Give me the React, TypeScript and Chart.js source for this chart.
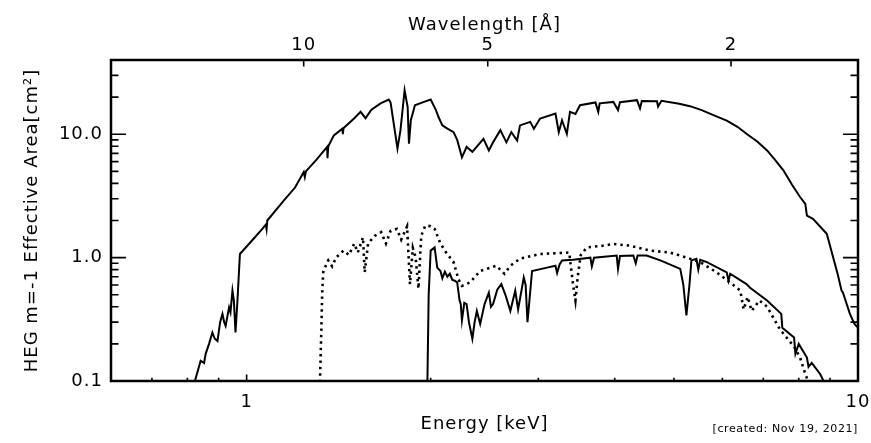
import React, { useEffect, useRef } from 'react';
import { Chart, registerables } from 'chart.js';

Chart.register(...registerables);

const HC = 12.398; // keV * Angstrom

// Upper solid curve (first order)
const upperEnergy = [
  0.822, 0.841, 0.852, 0.857, 0.868, 0.879, 0.887, 0.896, 0.905, 0.913, 0.919, 0.924, 0.936, 0.941, 0.948,
  0.953, 0.959, 0.966, 0.975, 1.03, 1.06, 1.075, 1.078, 1.081, 1.15, 1.2, 1.24, 1.245, 1.25, 1.3, 1.354,
  1.356, 1.36, 1.389, 1.434, 1.437, 1.44, 1.5, 1.536, 1.565, 1.6, 1.656, 1.708, 1.72, 1.765, 1.785, 1.813,
  1.834, 1.838, 1.843, 1.856, 1.885, 1.95, 2.0, 2.04, 2.06, 2.09, 2.13, 2.18, 2.21, 2.25, 2.29, 2.34, 2.44,
  2.49, 2.53, 2.6, 2.66, 2.71, 2.77, 2.8, 2.91, 2.95, 3.02, 3.2, 3.24, 3.28, 3.34, 3.38, 3.45, 3.51, 3.72,
  3.76, 3.78, 3.98, 4.05, 4.08, 4.35, 4.4, 4.43, 4.69, 4.71, 4.77, 5.1, 5.31, 5.55, 5.8, 6.1, 6.35, 6.57,
  6.85, 7.1, 7.3, 7.55, 7.8, 8.04, 8.2, 8.25, 8.44, 8.89, 9.26, 9.4, 9.45, 9.7, 9.87, 10.0,
];
const upperArea = [
  0.098, 0.146, 0.14, 0.166, 0.2, 0.247, 0.22, 0.211, 0.3, 0.35, 0.3, 0.28, 0.395, 0.36, 0.54,
  0.45, 0.247, 0.447, 1.07, 1.45, 1.7, 1.85, 1.7, 2.0, 2.9, 3.7, 4.94, 4.5, 5.0, 6.2, 7.9,
  6.4, 8.0, 9.8, 11.1, 10.0, 11.2, 13.5, 15.2, 13.5, 15.8, 17.8, 19.1, 18.0, 7.65, 10.8, 22.7,
  16.6, 12.0, 8.4, 13.0, 17.2, 18.3, 19.1, 15.7, 13.8, 11.8, 11.1, 10.4, 9.0, 6.5, 7.9, 7.2, 9.2,
  7.4, 8.6, 10.8, 8.6, 10.4, 8.9, 11.8, 12.6, 11.1, 13.4, 14.7, 10.4, 13.0, 10.1, 15.2, 14.6, 17.2, 18.1,
  15.2, 17.8, 18.3, 15.7, 18.2, 18.9, 16.2, 18.6, 18.5, 16.8, 18.7, 17.7, 16.9, 15.7, 14.3, 12.9, 11.5, 10.1,
  8.7, 7.4, 6.3, 5.1, 3.9, 3.1, 2.73, 2.19, 2.06, 1.56, 0.74, 0.54, 0.52, 0.35, 0.29, 0.27,
];

// Lower solid curve
const lowerEnergy = [
  1.975, 1.985, 2.0, 2.03, 2.04, 2.05, 2.075, 2.09, 2.11, 2.13, 2.15, 2.17, 2.19, 2.21, 2.23, 2.24, 2.25,
  2.27, 2.29, 2.31, 2.34, 2.36, 2.38, 2.41, 2.45, 2.49, 2.51, 2.53, 2.57, 2.61, 2.65, 2.7, 2.75, 2.78,
  2.84, 2.86, 2.88, 2.93, 3.1, 3.2, 3.22, 3.25, 3.28, 3.42, 3.65, 3.67, 3.7, 4.03, 4.05, 4.08, 4.29,
  4.33, 4.36, 4.51, 4.75, 5.12, 5.18, 5.24, 5.3, 5.34, 5.44, 5.48, 5.52, 5.66, 6.1, 6.14, 6.18, 6.57,
  6.66, 7.1, 7.49, 7.52, 7.86, 7.9, 8.0, 8.25, 8.3, 8.4, 8.67, 8.8,
];
const lowerArea = [
  0.09, 0.5, 1.14, 1.21, 1.0, 0.83, 0.78, 0.68, 0.77, 0.7, 0.74, 0.66, 0.65, 0.63, 0.45, 0.42, 0.31,
  0.43, 0.42, 0.3, 0.22, 0.3, 0.37, 0.29, 0.42, 0.52, 0.4, 0.42, 0.55, 0.61, 0.5, 0.37, 0.54, 0.38,
  0.69, 0.6, 0.3, 0.78, 0.83, 0.86, 0.75, 0.88, 0.95, 0.96, 1.0, 0.85, 1.0, 1.04, 0.81, 1.03, 1.04,
  0.9, 1.04, 1.04, 0.95, 0.81, 0.6, 0.34, 0.6, 0.95, 0.98, 0.8, 0.96, 0.92, 0.76, 0.65, 0.74, 0.61,
  0.57, 0.45, 0.35, 0.27, 0.225, 0.166, 0.2, 0.155, 0.13, 0.14, 0.114, 0.098,
];

// Dotted curve
const dottedEnergy = [
  1.318, 1.32, 1.322, 1.325, 1.328, 1.331, 1.335, 1.36, 1.38, 1.4, 1.44, 1.47, 1.5, 1.52, 1.55, 1.56,
  1.58, 1.62, 1.66, 1.69, 1.72, 1.76, 1.79, 1.83, 1.85, 1.87, 1.89, 1.91, 1.93, 1.96, 2.0, 2.03, 2.075,
  2.12, 2.18, 2.22, 2.25, 2.32, 2.41, 2.56, 2.64, 2.7, 2.8, 3.02, 3.37, 3.42, 3.45, 3.48, 3.52, 3.6,
  3.83, 3.98, 4.24, 4.57, 4.93, 5.25, 5.52, 5.87, 6.2, 6.42, 6.5, 6.6, 6.7, 6.9, 7.1, 7.46, 7.86, 8.04,
  8.2, 8.3,
];
const dottedArea = [
  0.098, 0.13, 0.175, 0.255, 0.447, 0.59, 0.78, 0.95, 0.85, 1.0, 1.14, 1.05, 1.3, 1.1, 1.46, 0.76,
  1.3, 1.5, 1.61, 1.3, 1.65, 1.71, 1.4, 1.79, 0.61, 1.2, 1.0, 0.56, 1.5, 1.82, 1.8, 1.71, 1.3,
  1.1, 0.92, 0.67, 0.59, 0.63, 0.78, 0.86, 0.74, 0.86, 0.98, 1.07, 1.1, 0.6, 0.45, 0.7, 1.05, 1.21,
  1.25, 1.29, 1.25, 1.14, 1.1, 1.0, 0.92, 0.76, 0.62, 0.54, 0.38, 0.48, 0.37, 0.45, 0.4, 0.26, 0.19, 0.155,
  0.114, 0.098,
];

const energyTicks = [1, 10];
const energyTickLabels = ['1', '10'];
const energyMinorTicks = [0.7, 0.8, 0.9, 2, 3, 4, 5, 6, 7, 8, 9];
const wavelengthTicks = [10, 5, 2];
const areaTicks = [0.1, 1, 10];
const areaTickLabels = ['0.1', '1.0', '10.0'];
const areaMinorTicks = [0.2, 0.3, 0.4, 0.5, 0.6, 0.7, 0.8, 0.9, 2, 3, 4, 5, 6, 7, 8, 9, 20, 30];

const FONT = "'DejaVu Sans', sans-serif";

const frameTicks = {
  id: 'frameTicks',
  beforeDraw(chart: any) {
    (chart.ctx as any).letterSpacing = '1px';
  },
  afterDraw(chart: any) {
    const { ctx, chartArea: a, scales } = chart;
    const xs = scales.x;
    const ys = scales.y;
    const xMaj = 6.5;
    const yMaj = 15;
    ctx.save();
    ctx.strokeStyle = '#000';
    ctx.lineWidth = 2.5;
    ctx.strokeRect(a.left, a.top, a.right - a.left, a.bottom - a.top);
    ctx.lineWidth = 1.6;
    ctx.beginPath();
    energyTicks.forEach((v) => {
      const px = xs.getPixelForValue(v);
      ctx.moveTo(px, a.bottom);
      ctx.lineTo(px, a.bottom - xMaj);
    });
    energyMinorTicks.forEach((v) => {
      const px = xs.getPixelForValue(v);
      ctx.moveTo(px, a.bottom);
      ctx.lineTo(px, a.bottom - xMaj / 2);
    });
    wavelengthTicks.forEach((l) => {
      const px = xs.getPixelForValue(HC / l);
      ctx.moveTo(px, a.top);
      ctx.lineTo(px, a.top + xMaj);
    });
    areaTicks.forEach((v) => {
      const py = ys.getPixelForValue(v);
      ctx.moveTo(a.left, py);
      ctx.lineTo(a.left + yMaj, py);
      ctx.moveTo(a.right, py);
      ctx.lineTo(a.right - yMaj, py);
    });
    areaMinorTicks.forEach((v) => {
      const py = ys.getPixelForValue(v);
      ctx.moveTo(a.left, py);
      ctx.lineTo(a.left + yMaj / 2, py);
      ctx.moveTo(a.right, py);
      ctx.lineTo(a.right - yMaj / 2, py);
    });
    ctx.stroke();
    ctx.font = `11px ${FONT}`;
    (ctx as any).letterSpacing = '0.6px';
    ctx.fillStyle = '#000';
    ctx.textAlign = 'right';
    ctx.textBaseline = 'middle';
    ctx.fillText('[created: Nov 19, 2021]', a.right, 429);
    ctx.restore();
  },
};

const fixSize = (prop: 'width' | 'height', size: number) => (s: any) => {
  s[prop] = size;
  s.paddingLeft = 0;
  s.paddingRight = 0;
  s.paddingTop = 0;
  s.paddingBottom = 0;
};

export default function App() {
  const ref = useRef<HTMLCanvasElement | null>(null);

  useEffect(() => {
    if (!ref.current) return;
    const toPts = (xs: number[], ys: number[]) => xs.map((x, i) => ({ x, y: ys[i] }));
    const tickFont = { family: FONT, size: 18 };
    const chart = new Chart(ref.current, {
      type: 'line',
      data: {
        datasets: [
          {
            label: 'HEG m=-1',
            data: toPts(upperEnergy, upperArea),
            borderColor: '#000',
            borderWidth: 2,
            pointRadius: 0,
            tension: 0,
            fill: false,
          },
          {
            label: 'lower',
            data: toPts(lowerEnergy, lowerArea),
            borderColor: '#000',
            borderWidth: 2,
            pointRadius: 0,
            tension: 0,
            fill: false,
          },
          {
            label: 'dotted',
            data: toPts(dottedEnergy, dottedArea),
            borderColor: '#000',
            borderWidth: 2.6,
            borderDash: [2.4, 4],
            pointRadius: 0,
            tension: 0,
            fill: false,
          },
        ],
      },
      options: {
        responsive: false,
        animation: false,
        events: [],
        layout: { padding: 0 },
        plugins: { legend: { display: false }, tooltip: { enabled: false } },
        scales: {
          x: {
            type: 'logarithmic',
            position: 'bottom',
            min: 0.6,
            max: 10,
            grid: { display: false, drawTicks: false },
            border: { display: false },
            afterBuildTicks: (s: any) => {
              s.ticks = energyTicks.map((v) => ({ value: v }));
            },
            afterFit: fixSize('height', 62),
            ticks: {
              autoSkip: false,
              maxRotation: 0,
              padding: 11,
              color: '#000',
              font: tickFont,
              callback: (v: any) => energyTickLabels[energyTicks.indexOf(Number(v))] ?? '',
            },
            title: {
              display: true,
              text: 'Energy [keV]',
              color: '#000',
              font: tickFont,
              padding: { top: 0, bottom: 8 },
            },
          },
          x2: {
            type: 'logarithmic',
            position: 'top',
            min: 0.6,
            max: 10,
            grid: { display: false, drawTicks: false },
            border: { display: false },
            afterBuildTicks: (s: any) => {
              s.ticks = wavelengthTicks.map((l) => ({ value: HC / l }));
            },
            afterFit: fixSize('height', 60),
            ticks: {
              autoSkip: false,
              maxRotation: 0,
              padding: 4,
              color: '#000',
              font: tickFont,
              callback: (v: any) => String(Math.round(HC / Number(v))),
            },
            title: {
              display: true,
              text: 'Wavelength [Å]',
              color: '#000',
              font: tickFont,
              padding: { top: 15, bottom: 0 },
            },
          },
          y: {
            type: 'logarithmic',
            position: 'left',
            min: 0.1,
            max: 40,
            grid: { display: false, drawTicks: false },
            border: { display: false },
            afterBuildTicks: (s: any) => {
              s.ticks = areaTicks.map((v) => ({ value: v }));
            },
            afterFit: fixSize('width', 111),
            ticks: {
              autoSkip: false,
              padding: 8,
              color: '#000',
              font: tickFont,
              callback: (v: any) => areaTickLabels[areaTicks.indexOf(Number(v))] ?? '',
            },
            title: {
              display: true,
              text: 'HEG m=-1 Effective Area[cm²]',
              color: '#000',
              font: tickFont,
              padding: { top: 22, bottom: 0 },
            },
          },
          y2: {
            type: 'logarithmic',
            position: 'right',
            min: 0.1,
            max: 40,
            grid: { display: false, drawTicks: false },
            border: { display: false },
            afterFit: fixSize('width', 13),
            ticks: { display: false },
          },
        },
      } as any,
      plugins: [frameTicks],
    });
    return () => chart.destroy();
  }, []);

  return (
    <div style={{ position: 'fixed', left: 0, top: 0, width: 871, height: 443, background: '#fff' }}>
      <canvas ref={ref} width={871} height={443} style={{ display: 'block' }} />
    </div>
  );
}
